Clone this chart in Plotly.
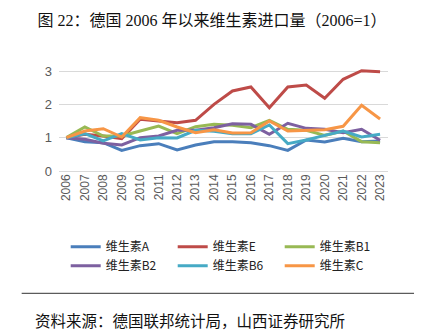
import plotly.graph_objects as go

# Import volume index of vitamins in Germany, 2006 = 1
years = list(range(2006, 2024))
vit_a = [1, 0.88, 0.85, 0.62, 0.76, 0.82, 0.63, 0.78, 0.88, 0.88, 0.85, 0.76, 0.62, 0.93, 0.87, 0.98, 0.88, 0.90]
vit_e = [1, 1.10, 1.05, 0.97, 1.55, 1.50, 1.45, 1.52, 2.00, 2.40, 2.52, 1.90, 2.52, 2.58, 2.18, 2.75, 3.01, 2.98]
vit_b1 = [1, 1.32, 1.05, 1.05, 1.20, 1.35, 1.12, 1.33, 1.40, 1.37, 1.30, 1.52, 1.25, 1.22, 1.07, 1.20, 0.88, 0.85]
vit_b2 = [1, 0.95, 0.83, 0.78, 1.00, 1.05, 1.22, 1.22, 1.30, 1.42, 1.40, 1.10, 1.43, 1.28, 1.25, 1.15, 1.25, 0.92]
vit_b6 = [1, 1.12, 0.90, 1.12, 0.93, 1.00, 0.99, 1.22, 1.19, 1.12, 1.12, 1.38, 0.82, 0.93, 1.07, 1.20, 1.02, 1.10]
vit_c = [1, 1.20, 1.27, 1.02, 1.60, 1.52, 1.32, 1.15, 1.24, 1.14, 1.15, 1.50, 1.20, 1.22, 1.24, 1.34, 1.97, 1.56]

series = [
    ("维生素A", vit_a, "#4A7EBB"),
    ("维生素E", vit_e, "#BE4B48"),
    ("维生素B1", vit_b1, "#98B954"),
    ("维生素B2", vit_b2, "#7D60A0"),
    ("维生素B6", vit_b6, "#46AAC5"),
    ("维生素C", vit_c, "#F79646"),
]

fig = go.Figure()
for name, vals, color in series:
    fig.add_trace(go.Scatter(
        x=years, y=vals, name=name, mode="lines",
        line=dict(color=color, width=3),
    ))

W, H = 424, 330
L, R, T, B = 59.3, 36, 60.7, 159.3
pw = W - L - R
ph = H - T - B

def px_x(x):
    return (x - L) / pw

def px_y(y):
    return (H - B - y) / ph

fig.update_layout(
    width=W, height=H,
    margin=dict(l=L, r=R, t=T, b=B, pad=0),
    paper_bgcolor="white", plot_bgcolor="white",
    font=dict(family="Liberation Sans, Arial, Noto Sans CJK SC", color="#595959"),
    title=dict(
        text="图 22：德国 2006 年以来维生素进口量（2006=1）",
        font=dict(family="Liberation Serif, Noto Sans CJK SC", size=16, color="#111111"),
        x=0.5, xanchor="center", xref="container",
        y=1 - 20 / H, yanchor="middle", yref="container",
    ),
    xaxis=dict(
        range=[2005.6, 2023.43],
        tickmode="array", tickvals=years, ticktext=[str(y) for y in years],
        tickangle=-90, tickfont=dict(size=12, color="#595959"),
        showgrid=False, zeroline=False, showline=False, ticks="",
        fixedrange=True,
    ),
    yaxis=dict(
        range=[0, 3.3],
        tickvals=[0, 1, 2, 3], tickfont=dict(size=13, color="#595959"),
        showgrid=True, gridcolor="#D9D9D9", gridwidth=1,
        zeroline=True, zerolinecolor="#D9D9D9", zerolinewidth=1,
        showline=False, ticks="", ticklabelstandoff=6,
    ),
    legend=dict(
        orientation="h",
        x=px_x(66), xanchor="left",
        y=px_y(232), yanchor="top",
        entrywidth=62, entrywidthmode="pixels",
        font=dict(family="Noto Sans CJK SC", size=12, color="#222222"),
        tracegroupgap=0, itemwidth=30,
        bgcolor="rgba(0,0,0,0)",
    ),
    showlegend=True,
    shapes=[dict(
        type="line", xref="paper", yref="paper",
        x0=px_x(22), x1=px_x(414), y0=px_y(293), y1=px_y(293),
        line=dict(color="#333333", width=1),
    )],
    annotations=[dict(
        text="资料来源：德国联邦统计局，山西证券研究所",
        xref="paper", yref="paper",
        x=px_x(33), y=px_y(320), xanchor="left", yanchor="middle",
        showarrow=False,
        font=dict(family="Noto Sans CJK SC", size=15.5, color="#111111"),
    )],
)

fig.write_html("out.html")
